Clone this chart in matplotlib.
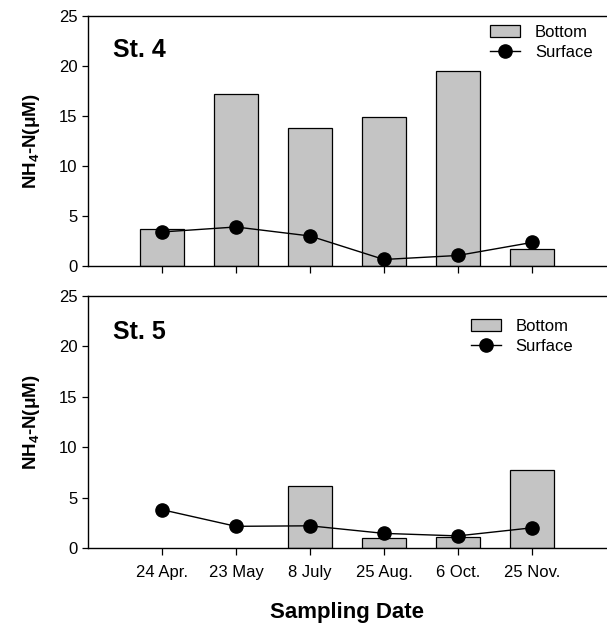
import numpy as np
import matplotlib
matplotlib.use("Agg")
import matplotlib.pyplot as plt

plt.rcParams['font.family'] = ['Liberation Sans', 'DejaVu Sans']
plt.rcParams['mathtext.fontset'] = 'custom'
plt.rcParams['mathtext.bf'] = 'Liberation Sans:bold'
plt.rcParams['mathtext.rm'] = 'Liberation Sans'

dates = ['24 Apr.', '23 May', '8 July', '25 Aug.', '6 Oct.', '25 Nov.']
st4_bottom = [3.7, 17.2, 13.8, 14.9, 19.5, 1.7]
st4_surface = [3.4, 3.9, 3.0, 0.65, 1.05, 2.35]
st5_bottom = [np.nan, np.nan, 6.1, 0.95, 1.05, 7.7]
st5_surface = [3.8, 2.15, 2.2, 1.45, 1.2, 2.0]

fig = plt.figure(figsize=(6.07, 6.27), dpi=100)
ax1 = fig.add_axes([0.145, 0.5758, 0.853, 0.3987])
ax2 = fig.add_axes([0.145, 0.126, 0.853, 0.402])

x = np.arange(len(dates))
panels = [(ax1, st4_bottom, st4_surface, 'St. 4', (0.776, 0.965), 0.864),
          (ax2, st5_bottom, st5_surface, 'St. 5', (0.739, 0.91), 0.857)]

for ax, bot, surf, name, lpos, ny in panels:
    bars = ax.bar(x, bot, width=0.6, color='#c4c4c4', edgecolor='black',
                  lw=0.9, label='Bottom', zorder=2)
    line, = ax.plot(x, surf, color='black', lw=1.0, marker='o', ms=9.5,
                    label='Surface', zorder=3)
    ax.set_xlim(-1, 6)
    ax.set_ylim(0, 25)
    ax.set_yticks([0, 5, 10, 15, 20, 25])
    ax.set_xticks(x)
    ax.tick_params(axis='both', direction='out', length=4, width=0.9,
                   labelsize=12)
    ax.tick_params(axis='x', length=5)
    for s in ['left', 'top', 'bottom']:
        ax.spines[s].set_linewidth(1.0)
    ax.spines['right'].set_visible(False)
    ax.set_ylabel(r'NH$_{\mathbf{4}}$-N(μM)', fontsize=13.5,
                  fontweight='bold', labelpad=12)
    ax.text(0.048, ny, name, transform=ax.transAxes, fontsize=18,
            fontweight='bold', va='center')
    ax.legend([bars, line], ['Bottom', 'Surface'], loc='upper left',
              bbox_to_anchor=lpos, frameon=False, fontsize=12,
              handlelength=1.8, handletextpad=0.9, labelspacing=0.3,
              borderpad=0, borderaxespad=0)

ax1.set_xticklabels([])
ax2.set_xticklabels(dates)
ax2.tick_params(axis='x', pad=7)
ax2.set_xlabel('Sampling Date', fontsize=16, fontweight='bold', labelpad=16)

fig.savefig('out.png', dpi=100)
